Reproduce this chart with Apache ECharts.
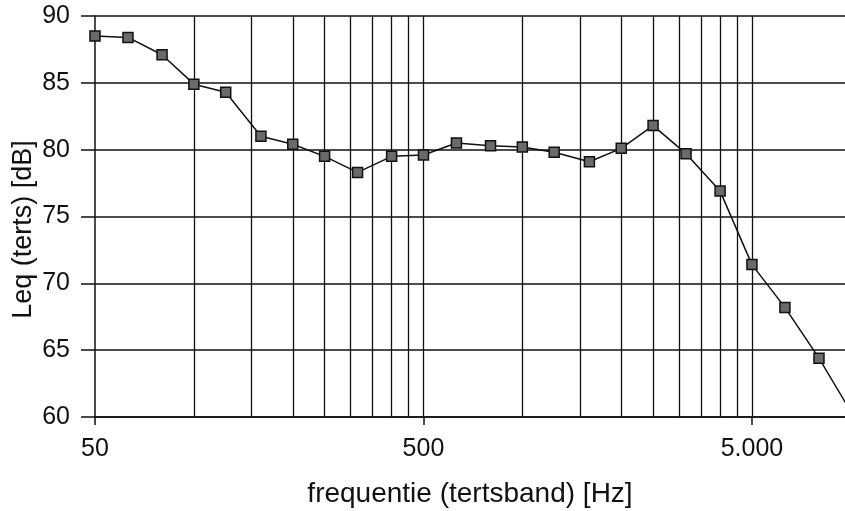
<!DOCTYPE html>
<html>
<head>
<meta charset="utf-8">
<script src="https://cdn.jsdelivr.net/npm/echarts@6/dist/echarts.min.js"></script>
<style>
  html, body { margin: 0; padding: 0; background: #fff; }
  #chart { width: 845px; height: 511px; }
</style>
</head>
<body>
<div id="chart"></div>
<script>
// tertsbanden en gemeten niveaus
var freqs = [50, 63, 80, 100, 125, 160, 200, 250, 315, 400, 500, 630, 800, 1000,
    1250, 1600, 2000, 2500, 3150, 4000, 5000, 6300, 8000, 10000];
var leq = [88.5, 88.4, 87.1, 84.9, 84.3, 81.0, 80.4, 79.5, 78.3, 79.5, 79.6, 80.5, 80.3, 80.2,
    79.8, 79.1, 80.1, 81.8, 79.7, 76.9, 71.4, 68.2, 64.4, 60.4];
// verticale hulplijnen
var gridFreqs = [100, 150, 200, 250, 300, 350, 400, 450, 500,
    1000, 1500, 2000, 2500, 3000, 3500, 4000, 4500, 5000];
var xTickLabels = [50, 500, 5000];
var yMin = 60, yMax = 90, yStep = 5;

var font = "'Liberation Sans', Arial, sans-serif";

function fmtHz(v) {
    var n = Math.round(v);
    return n >= 1000 ? String(n).replace(/\B(?=(\d{3})+(?!\d))/g, '.') : String(n);
}

var myChart = echarts.init(document.getElementById('chart'));

var option = {
    animation: false,
    backgroundColor: '#fff',
    grid: {
        left: 95,
        right: 0,
        top: 16,
        bottom: 94,
        containLabel: false,
        outerBoundsMode: 'none'
    },
    xAxis: {
        type: 'log',
        logBase: 10,
        min: 50,
        max: 9600,
        name: 'frequentie (tertsband) [Hz]',
        nameLocation: 'middle',
        nameGap: 63,
        nameMoveOverlap: false,
        nameTextStyle: { color: '#111', fontSize: 28, fontFamily: font },
        axisLine: { show: true, lineStyle: { color: '#111', width: 1.5 } },
        axisTick: {
            show: true,
            customValues: xTickLabels,
            length: 8,
            lineStyle: { color: '#111', width: 1.5 }
        },
        axisLabel: {
            customValues: xTickLabels,
            margin: 20,
            color: '#111',
            fontSize: 25,
            fontFamily: font,
            formatter: function (v) { return fmtHz(v); }
        },
        splitLine: { show: false },
        minorTick: { show: false },
        minorSplitLine: { show: false }
    },
    yAxis: {
        type: 'value',
        min: yMin,
        max: yMax,
        interval: yStep,
        name: 'Leq (terts) [dB]',
        nameLocation: 'middle',
        nameGap: 58,
        nameMoveOverlap: false,
        nameTextStyle: { color: '#111', fontSize: 27, fontFamily: font, padding: [0, 26, 0, 0] },
        axisLine: { show: true, lineStyle: { color: '#111', width: 1.5 } },
        axisTick: { show: true, inside: false, length: 14, lineStyle: { color: '#111', width: 1.5 } },
        axisLabel: { margin: 25, color: '#111', fontSize: 25, fontFamily: font },
        splitLine: { show: true, lineStyle: { color: '#111', width: 1.5 } }
    },
    series: [{
        type: 'line',
        data: freqs.map(function (f, i) { return [f, leq[i]]; }),
        symbol: 'rect',
        symbolSize: 10,
        showAllSymbol: true,
        lineStyle: { color: '#111', width: 1.5 },
        itemStyle: { color: '#6a6a6a', borderColor: '#111', borderWidth: 1.5 },
        z: 5,
        markLine: {
            silent: true,
            symbol: ['none', 'none'],
            label: { show: false },
            lineStyle: { color: '#111', width: 1.3, type: 'solid' },
            data: gridFreqs.map(function (f) { return { xAxis: f }; })
        }
    }]
};

myChart.setOption(option);
</script>
</body>
</html>
